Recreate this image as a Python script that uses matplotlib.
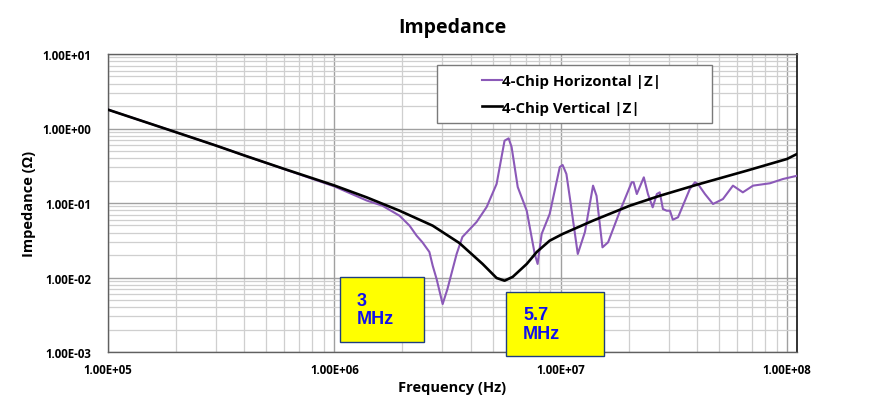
"""
Impedance vs frequency chart for 4-chip horizontal / vertical capacitor layouts.
"""
import matplotlib
matplotlib.use("Agg")
import matplotlib.pyplot as plt
from matplotlib.patches import Rectangle
from matplotlib.ticker import LogLocator, FixedLocator

# Frequency (Hz) and |Z| (ohm)
freq_vertical = [1.0e5, 2.0e5, 3.0e5, 4.0e5, 6.0e5, 1.0e6, 1.39e6, 1.94e6, 2.72e6,
                 3.57e6, 4.52e6, 5.21e6, 5.65e6, 6.14e6, 7.08e6, 7.84e6, 8.94e6,
                 1.02e7, 1.39e7, 2.02e7, 2.74e7, 4.0e7, 6.65e7, 1.0e8, 1.107e8]
z_vertical = [1.79, 0.89, 0.59, 0.435, 0.287, 0.172, 0.119, 0.0789, 0.0496,
              0.029, 0.0152, 0.00985, 0.00906, 0.0102, 0.0152, 0.022, 0.0312,
              0.0384, 0.058, 0.092, 0.125, 0.176, 0.272, 0.39, 0.455]

freq_horizontal = [1.0e5, 2.0e5, 3.0e5, 4.0e5, 6.0e5, 1.0e6, 1.39e6, 1.63e6, 1.94e6,
                   2.15e6, 2.31e6, 2.45e6, 2.63e6, 2.72e6, 2.83e6, 3.01e6, 3.16e6,
                   3.47e6, 3.68e6, 4.25e6, 4.71e6,
                   5.21e6, 5.65e6, 5.89e6, 6.07e6, 6.46e6, 7.08e6, 7.68e6, 7.91e6,
                   8.24e6, 8.94e6, 9.91e6, 1.02e7, 1.06e7, 1.10e7, 1.19e7, 1.28e7,
                   1.39e7, 1.44e7, 1.53e7, 1.62e7, 1.83e7, 2.06e7, 2.10e7, 2.17e7,
                   2.33e7, 2.43e7, 2.55e7, 2.66e7, 2.74e7, 2.83e7, 2.94e7, 3.04e7,
                   3.13e7, 3.30e7, 3.72e7, 3.92e7, 4.04e7, 4.34e7, 4.71e7, 5.21e7,
                   5.77e7, 6.38e7, 7.08e7, 8.41e7, 9.60e7, 1.107e8]
z_horizontal = [1.79, 0.89, 0.59, 0.435, 0.285, 0.167, 0.108, 0.092, 0.0676,
                0.0496, 0.0364, 0.0297, 0.022, 0.0144, 0.00955, 0.0044, 0.0070,
                0.0207, 0.035, 0.0556, 0.0884,
                0.18, 0.686, 0.738, 0.565, 0.164, 0.0788, 0.0207, 0.0152,
                0.0384, 0.0711, 0.304, 0.324, 0.245, 0.113, 0.0207, 0.0408,
                0.171, 0.125, 0.0254, 0.0297, 0.0788, 0.19, 0.19, 0.132,
                0.221, 0.132, 0.0875, 0.132, 0.139, 0.083, 0.0788, 0.0788,
                0.0597, 0.0643, 0.154, 0.19, 0.18, 0.132, 0.097, 0.113,
                0.171, 0.139, 0.171, 0.184, 0.21, 0.232]

x_tick_values = [1e5, 1e6, 1e7, 1e8]
x_tick_labels = ["1.00E+05", "1.00E+06", "1.00E+07", "1.00E+08"]
y_tick_values = [1e-3, 1e-2, 1e-1, 1e0, 1e1]
y_tick_labels = ["1.00E-03", "1.00E-02", "1.00E-01", "1.00E+00", "1.00E+01"]

series_names = ["4-Chip Horizontal |Z|", "4-Chip Vertical |Z|"]
callouts = ["3\nMHz", "5.7\nMHz"]

W, H = 888, 410
fig = plt.figure(figsize=(W / 100, H / 100), dpi=100)
fig.patch.set_facecolor("white")
ax = fig.add_axes([108 / W, 1 - 353 / H, (797 - 108) / W, (353 - 55) / H])

ax.plot(freq_horizontal, z_horizontal, color="#8b59b8", lw=1.5,
        label=series_names[0], zorder=3)
ax.plot(freq_vertical, z_vertical, color="black", lw=1.9,
        label=series_names[1], zorder=4)

ax.set_xscale("log")
ax.set_yscale("log")
ax.set_xlim(1e5, 1.107e8)
ax.set_ylim(1e-3, 1e1)

ax.xaxis.set_major_locator(FixedLocator(x_tick_values))
ax.set_xticklabels(x_tick_labels)
ax.yaxis.set_major_locator(FixedLocator(y_tick_values))
ax.set_yticklabels(y_tick_labels)
ax.xaxis.set_minor_locator(LogLocator(base=10, subs=range(2, 10), numticks=20))
ax.yaxis.set_minor_locator(LogLocator(base=10, subs=range(2, 10), numticks=20))
ax.tick_params(which="both", length=0)
ax.tick_params(axis="x", pad=8)
ax.tick_params(axis="y", pad=12)
for lab in ax.get_xticklabels() + ax.get_yticklabels():
    lab.set_fontfamily("Open Sans")
    lab.set_fontweight("bold")
    lab.set_fontsize(8.3)

ax.grid(which="major", color="#a0a0a0", lw=1.0)
ax.grid(which="minor", color="#cfcfcf", lw=0.9)
ax.set_axisbelow(True)
for side in ["left", "bottom", "top"]:
    ax.spines[side].set_color("#606060")
    ax.spines[side].set_linewidth(1.0)
ax.spines["right"].set_color("#222222")
ax.spines["right"].set_linewidth(1.3)

fig.text((108 + 797) / 2 / W, 1 - 28 / H, "Impedance", ha="center", va="center",
         fontsize=14, fontweight="bold", family="Open Sans")
ax.set_xlabel("Frequency (Hz)", fontsize=10.5, fontweight="bold", family="Open Sans",
              labelpad=3)
ax.set_ylabel("Impedance (\u03a9)", fontsize=10.5, fontweight="bold", family="Open Sans",
              labelpad=5)

# legend frame drawn by hand so the entries sit centred like the original
ax.add_patch(Rectangle((437 / W, 1 - 124 / H), (712 - 437) / W, (124 - 66) / H,
                       transform=fig.transFigure, facecolor="white",
                       edgecolor="#7a7a7a", lw=1.0, zorder=5, clip_on=False))
leg = ax.legend(loc="upper left", bbox_to_anchor=(475 / W, 1 - 68 / H),
                bbox_transform=fig.transFigure, frameon=False, handlelength=1.33,
                handletextpad=0.0, labelspacing=0.85, borderaxespad=0, borderpad=0.45,
                prop={"family": "Open Sans", "weight": "bold", "size": 10.8})
leg.set_zorder(6)

# yellow call-out boxes
boxes = [(340, 278, 424, 343), (506, 293, 604, 357)]
for (x0, y0, x1, y1), txt in zip(boxes, callouts):
    ax.add_patch(Rectangle((x0 / W, 1 - y1 / H), (x1 - x0) / W, (y1 - y0) / H,
                           transform=fig.transFigure, facecolor="#ffff00",
                           edgecolor="#1f3f80", lw=1.0, zorder=7, clip_on=False))
    ax.text((x0 + 17) / W, 1 - (y0 + y1) / 2 / H, txt, transform=fig.transFigure,
            ha="left", va="center", fontsize=13, fontweight="bold",
            family="Liberation Sans", color="#1010ee", linespacing=1.15, zorder=8)

fig.savefig("out.png", dpi=100)
